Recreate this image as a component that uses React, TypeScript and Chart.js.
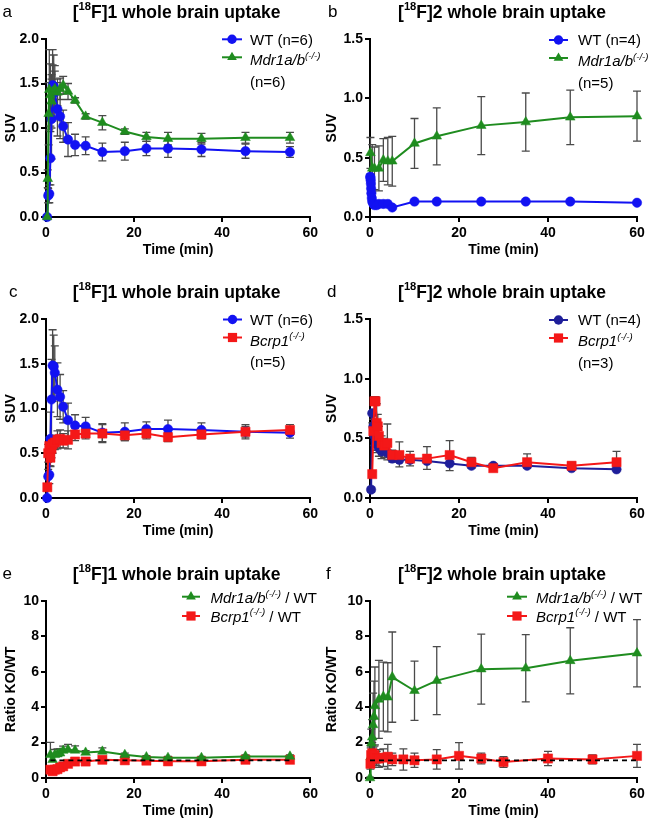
import React, { useEffect, useRef } from 'react';
import { Chart, registerables } from 'chart.js';

Chart.register(...registerables);

// ------------------------- DATA -------------------------
// Panel a / c : [18F]1, WT (n=6)
const timeWT1 = [0.25, 0.5, 0.75, 1.0, 1.25, 1.5, 1.75, 2.0, 2.6, 3.2, 3.9, 5.0, 6.6, 9.0, 12.8, 17.9, 22.8, 27.7, 35.3, 45.3, 55.4];
const suvWT1 = [0.0, 0.24, 0.26, 0.66, 1.10, 1.48, 1.47, 1.40, 1.21, 1.13, 1.02, 0.87, 0.81, 0.80, 0.73, 0.74, 0.77, 0.77, 0.76, 0.74, 0.73];
const sdWT1 = [0.02, 0.08, 0.1, 0.3, 0.45, 0.4, 0.35, 0.3, 0.3, 0.25, 0.18, 0.19, 0.12, 0.1, 0.1, 0.1, 0.08, 0.1, 0.08, 0.08, 0.06];

// Panel a : [18F]1, Mdr1a/b(-/-) (n=6)
const timeMdr1 = [0.25, 0.4, 0.6, 0.75, 1.0, 1.25, 1.5, 2.0, 2.6, 3.2, 3.9, 5.0, 6.6, 9.0, 12.8, 17.9, 22.8, 27.7, 35.3, 45.3, 55.4];
const suvMdr1 = [0.0, 0.43, 1.16, 1.43, 1.37, 1.30, 1.41, 1.44, 1.40, 1.44, 1.48, 1.41, 1.31, 1.13, 1.06, 0.96, 0.90, 0.88, 0.88, 0.89, 0.89];
const sdMdr1 = [0.02, 0.1, 0.35, 0.45, 0.35, 0.3, 0.3, 0.2, 0.15, 0.12, 0.1, 0.09, 0.03, 0.03, 0.08, 0.03, 0.05, 0.07, 0.06, 0.06, 0.06];

// Panel c : [18F]1, Bcrp1(-/-) (n=5)
const timeBcrp1 = [0.3, 0.5, 0.75, 1.0, 1.25, 1.5, 2.0, 2.6, 3.2, 3.9, 5.0, 6.6, 9.0, 12.8, 17.9, 22.8, 27.7, 35.3, 45.3, 55.4];
const suvBcrp1 = [0.12, 0.5, 0.58, 0.45, 0.55, 0.6, 0.62, 0.65, 0.66, 0.64, 0.65, 0.71, 0.72, 0.72, 0.70, 0.72, 0.68, 0.71, 0.74, 0.76];
const sdBcrp1 = [0.03, 0.1, 0.1, 0.1, 0.1, 0.1, 0.08, 0.1, 0.1, 0.08, 0.1, 0.07, 0.06, 0.1, 0.06, 0.06, 0.05, 0.05, 0.06, 0.06];

// Panel b : [18F]2, WT (n=4)
const timeWT2 = [0.05, 0.1, 0.15, 0.2, 0.25, 0.3, 0.4, 0.5, 0.75, 1.0, 1.5, 2.0, 3.0, 4.0, 5.0, 10, 15, 25, 35, 45, 60];
const suvWT2 = [0.34, 0.33, 0.31, 0.28, 0.24, 0.2, 0.16, 0.13, 0.11, 0.1, 0.1, 0.11, 0.11, 0.11, 0.08, 0.13, 0.13, 0.13, 0.13, 0.13, 0.12];
const sdWT2 = [0.02, 0.02, 0.02, 0.02, 0.02, 0.02, 0.02, 0.01, 0.01, 0.01, 0.01, 0.01, 0.01, 0.01, 0.01, 0.01, 0.01, 0.01, 0.01, 0.01, 0.01];

// Panel b : [18F]2, Mdr1a/b(-/-) (n=5)
const timeMdr2 = [0.1, 0.5, 1.0, 2.0, 3.0, 4.0, 5.0, 10, 15, 25, 35, 45, 60];
const suvMdr2 = [0.54, 0.41, 0.41, 0.41, 0.48, 0.47, 0.47, 0.62, 0.68, 0.77, 0.80, 0.84, 0.85];
const sdMdr2 = [0.13, 0.2, 0.18, 0.19, 0.18, 0.2, 0.21, 0.21, 0.24, 0.245, 0.245, 0.23, 0.21];

// Panel d : [18F]2, WT (n=4)
const timeWTd = [0.25, 0.5, 0.75, 1.0, 1.25, 1.5, 2.0, 2.6, 3.2, 3.9, 5.0, 6.6, 9.0, 12.8, 17.9, 22.8, 27.7, 35.3, 45.3, 55.4];
const suvWTd = [0.07, 0.71, 0.60, 0.52, 0.48, 0.45, 0.42, 0.39, 0.40, 0.38, 0.33, 0.32, 0.32, 0.31, 0.29, 0.27, 0.27, 0.27, 0.25, 0.24];
const sdWTd = [0.02, 0.08, 0.08, 0.08, 0.08, 0.07, 0.07, 0.06, 0.06, 0.06, 0.03, 0.06, 0.05, 0.07, 0.06, 0.02, 0.02, 0.02, 0.01, 0.01];

// Panel d : [18F]2, Bcrp1(-/-) (n=3)
const timeBcrp2 = [0.5, 0.75, 1.0, 1.25, 1.5, 1.75, 2.0, 2.6, 3.2, 3.9, 5.0, 6.6, 9.0, 12.8, 17.9, 22.8, 27.7, 35.3, 45.3, 55.4];
const suvBcrp2 = [0.20, 0.56, 0.81, 0.81, 0.63, 0.60, 0.52, 0.46, 0.44, 0.46, 0.36, 0.36, 0.33, 0.33, 0.36, 0.30, 0.25, 0.30, 0.27, 0.30];
const sdBcrp2 = [0.02, 0.1, 0.04, 0.04, 0.16, 0.1, 0.08, 0.06, 0.06, 0.16, 0.04, 0.11, 0.06, 0.1, 0.12, 0.04, 0.04, 0.07, 0.03, 0.09];

// Panel e : [18F]1 ratios KO/WT
const timeRatio1 = [1.0, 1.5, 2.0, 2.6, 3.2, 3.9, 5.0, 6.6, 9.0, 12.8, 17.9, 22.8, 27.7, 35.3, 45.3, 55.4];
const ratioMdr1 = [1.31, 1.03, 1.31, 1.35, 1.40, 1.55, 1.60, 1.56, 1.44, 1.50, 1.31, 1.18, 1.14, 1.14, 1.22, 1.22];
const sdRatioMdr1 = [0.7, 0.3, 0.3, 0.3, 0.25, 0.25, 0.3, 0.25, 0.1, 0.2, 0.1, 0.08, 0.08, 0.08, 0.08, 0.08];
const ratioBcrp1 = [0.47, 0.38, 0.47, 0.5, 0.6, 0.66, 0.8, 0.93, 0.93, 1.03, 1.0, 0.98, 0.94, 0.94, 1.03, 1.03];
const sdRatioBcrp1 = [0.1, 0.1, 0.1, 0.1, 0.1, 0.1, 0.1, 0.1, 0.08, 0.1, 0.08, 0.06, 0.06, 0.06, 0.08, 0.08];
const refTime1 = [1.0, 55.4];

// Panel f : [18F]2 ratios KO/WT
const timeRatioMdr2 = [0, 0.15, 0.3, 0.5, 0.7, 0.9, 1.1, 2, 3, 4, 5, 10, 15, 25, 35, 45, 60];
const ratioMdr2 = [0, 1.2, 1.96, 2.3, 3.0, 3.47, 4.07, 4.44, 4.6, 4.56, 5.7, 4.93, 5.5, 6.15, 6.2, 6.62, 7.05];
const sdRatioMdr2 = [0.05, 0.5, 0.8, 1.0, 1.8, 2.0, 2.2, 2.2, 1.95, 1.95, 2.55, 1.67, 1.92, 1.98, 1.9, 1.87, 1.9];
const timeRatioBcrp2 = [0.1, 0.25, 0.5, 0.75, 1, 1.5, 2, 3, 4, 5, 7.5, 10, 15, 20, 25, 30, 40, 50, 60];
const ratioBcrp2 = [0.8, 1.3, 1.4, 1.2, 1.3, 1.1, 1.1, 1.15, 1.2, 1.05, 1.05, 1.0, 1.05, 1.25, 1.1, 0.9, 1.1, 1.05, 1.25];
const sdRatioBcrp2 = [0.3, 0.5, 0.6, 0.5, 0.5, 0.4, 0.5, 0.5, 0.7, 0.35, 0.6, 0.4, 0.55, 0.75, 0.3, 0.3, 0.4, 0.25, 0.65];
const refTime2 = [0, 60];
const refRatio = [1, 1];

// Axis ticks
const xTicks = [0, 20, 40, 60];
const suvTicks1 = [0, 0.5, 1.0, 1.5, 2.0];
const suvTicks2 = [0, 0.5, 1.0, 1.5];
const ratioTicks = [0, 2, 4, 6, 8, 10];

// ------------------------- STYLE -------------------------
const FONT = "'Liberation Sans', Arial, Helvetica, sans-serif";
const BLUE = '#1212f2';
const NAVY = '#1e1e9a';
const GREEN = '#1f8c1f';
const RED = '#f41818';
const ERR = '#4a4a4a';

type Part = { t: string; italic?: boolean; sup?: boolean; bold?: boolean };
type Marker = 'circle' | 'triangle' | 'rect' | 'none';
type Series = {
  x: number[]; y: number[]; err?: number[]; dir?: 'both' | 'up' | 'down';
  color: string; marker: Marker; order: number; dashed?: boolean;
};
type LegendEntry = { color: string; marker: Marker; my: number; lines: { y: number; parts: Part[] }[] };
type Spec = {
  key: string; letter: string; letterX: number; compound: string;
  box: { left: number; top: number; width: number; height: number };
  area: { left: number; right: number; top: number; bottom: number };
  yTicks: number[]; yDec: number; yTitle: string;
  series: Series[];
  legend: { x1: number; x2: number; tx: number; entries: LegendEntry[] };
};

const KO_MDR: Part[] = [{ t: 'Mdr1a/b', italic: true }, { t: '(-/-)', italic: true, sup: true }];
const KO_BCRP: Part[] = [{ t: 'Bcrp1', italic: true }, { t: '(-/-)', italic: true, sup: true }];

const LEFT = { left: 0, width: 321 };
const RIGHT = { left: 321, width: 330 };

function twoEntryLegend(m1: number, c1: string, mk1: Marker, t1: string, c2: string, mk2: Marker, ko: Part[], n2: string): LegendEntry[] {
  return [
    { color: c1, marker: mk1, my: m1, lines: [{ y: m1 + 5.4, parts: [{ t: t1 }] }] },
    { color: c2, marker: mk2, my: m1 + 18, lines: [{ y: m1 + 26, parts: ko }, { y: m1 + 47.6, parts: [{ t: n2 }] }] },
  ];
}
function ratioLegend(m1: number): LegendEntry[] {
  return [
    { color: GREEN, marker: 'triangle', my: m1, lines: [{ y: m1 + 6.5, parts: [...KO_MDR, { t: ' / WT' }] }] },
    { color: RED, marker: 'rect', my: m1 + 19.3, lines: [{ y: m1 + 19.3 + 5.6, parts: [...KO_BCRP, { t: ' / WT' }] }] },
  ];
}

const panels: Spec[] = [
  {
    key: 'a', letter: 'a', letterX: 2.5, compound: '1',
    box: { ...LEFT, top: 0, height: 270 }, area: { left: 46, right: 313, top: 39, bottom: 217 },
    yTicks: suvTicks1, yDec: 1, yTitle: 'SUV',
    series: [
      { x: timeWT1, y: suvWT1, err: sdWT1, dir: 'both', color: BLUE, marker: 'circle', order: 2 },
      { x: timeMdr1, y: suvMdr1, err: sdMdr1, dir: 'both', color: GREEN, marker: 'triangle', order: 1 },
    ],
    legend: { x1: 222, x2: 242, tx: 250, entries: twoEntryLegend(39.3, BLUE, 'circle', 'WT (n=6)', GREEN, 'triangle', KO_MDR, '(n=6)') },
  },
  {
    key: 'b', letter: 'b', letterX: 328, compound: '2',
    box: { ...RIGHT, top: 0, height: 270 }, area: { left: 370, right: 637, top: 39, bottom: 217 },
    yTicks: suvTicks2, yDec: 1, yTitle: 'SUV',
    series: [
      { x: timeWT2, y: suvWT2, err: sdWT2, dir: 'both', color: BLUE, marker: 'circle', order: 2 },
      { x: timeMdr2, y: suvMdr2, err: sdMdr2, dir: 'both', color: GREEN, marker: 'triangle', order: 1 },
    ],
    legend: { x1: 549, x2: 568, tx: 578, entries: twoEntryLegend(40, BLUE, 'circle', 'WT (n=4)', GREEN, 'triangle', KO_MDR, '(n=5)') },
  },
  {
    key: 'c', letter: 'c', letterX: 9, compound: '1',
    box: { ...LEFT, top: 270, height: 270 }, area: { left: 46, right: 313, top: 319, bottom: 498 },
    yTicks: suvTicks1, yDec: 1, yTitle: 'SUV',
    series: [
      { x: timeWT1, y: suvWT1, err: sdWT1, dir: 'both', color: BLUE, marker: 'circle', order: 2 },
      { x: timeBcrp1, y: suvBcrp1, err: sdBcrp1, dir: 'both', color: RED, marker: 'rect', order: 1 },
    ],
    legend: { x1: 223, x2: 242, tx: 250, entries: twoEntryLegend(319.5, BLUE, 'circle', 'WT (n=6)', RED, 'rect', KO_BCRP, '(n=5)') },
  },
  {
    key: 'd', letter: 'd', letterX: 327, compound: '2',
    box: { ...RIGHT, top: 270, height: 270 }, area: { left: 370, right: 637, top: 319, bottom: 498 },
    yTicks: suvTicks2, yDec: 1, yTitle: 'SUV',
    series: [
      { x: timeWTd, y: suvWTd, err: sdWTd, dir: 'down', color: NAVY, marker: 'circle', order: 2 },
      { x: timeBcrp2, y: suvBcrp2, err: sdBcrp2, dir: 'up', color: RED, marker: 'rect', order: 1 },
    ],
    legend: { x1: 549, x2: 568, tx: 578, entries: twoEntryLegend(320, NAVY, 'circle', 'WT (n=4)', RED, 'rect', KO_BCRP, '(n=3)') },
  },
  {
    key: 'e', letter: 'e', letterX: 2.5, compound: '1',
    box: { ...LEFT, top: 540, height: 280 }, area: { left: 46, right: 313, top: 601, bottom: 778 },
    yTicks: ratioTicks, yDec: 0, yTitle: 'Ratio KO/WT',
    series: [
      { x: refTime1, y: refRatio, color: '#000', marker: 'none', order: 0, dashed: true },
      { x: timeRatio1, y: ratioBcrp1, err: sdRatioBcrp1, dir: 'both', color: RED, marker: 'rect', order: 2 },
      { x: timeRatio1, y: ratioMdr1, err: sdRatioMdr1, dir: 'up', color: GREEN, marker: 'triangle', order: 1 },
    ],
    legend: { x1: 182, x2: 200, tx: 210.5, entries: ratioLegend(596.7) },
  },
  {
    key: 'f', letter: 'f', letterX: 326, compound: '2',
    box: { ...RIGHT, top: 540, height: 280 }, area: { left: 370, right: 637, top: 601, bottom: 778 },
    yTicks: ratioTicks, yDec: 0, yTitle: 'Ratio KO/WT',
    series: [
      { x: refTime2, y: refRatio, color: '#000', marker: 'none', order: 0, dashed: true },
      { x: timeRatioBcrp2, y: ratioBcrp2, err: sdRatioBcrp2, dir: 'both', color: RED, marker: 'rect', order: 1 },
      { x: timeRatioMdr2, y: ratioMdr2, err: sdRatioMdr2, dir: 'both', color: GREEN, marker: 'triangle', order: 2 },
    ],
    legend: { x1: 507, x2: 527, tx: 536, entries: ratioLegend(596.7) },
  },
];

// ------------------------- DRAW HELPERS -------------------------
const RADIUS: Record<string, number> = { circle: 4.7, triangle: 5.6, rect: 6.5, none: 0 };

function drawMarker(ctx: CanvasRenderingContext2D, kind: Marker, x: number, y: number, color: string) {
  if (kind === 'none') return;
  const r = RADIUS[kind];
  ctx.fillStyle = color;
  ctx.beginPath();
  if (kind === 'circle') ctx.arc(x, y, r, 0, Math.PI * 2);
  else if (kind === 'triangle') {
    ctx.moveTo(x, y - r);
    ctx.lineTo(x + r * 0.866, y + r * 0.5);
    ctx.lineTo(x - r * 0.866, y + r * 0.5);
    ctx.closePath();
  } else {
    const s = r * Math.SQRT1_2;
    ctx.rect(x - s, y - s, 2 * s, 2 * s);
  }
  ctx.fill();
}

function drawRich(ctx: CanvasRenderingContext2D, parts: Part[], x: number, y: number, size: number, align: 'left' | 'center', weight = '') {
  const fontFor = (p: Part) =>
    `${p.italic ? 'italic ' : ''}${p.bold || weight ? 'bold ' : ''}${p.sup ? Math.round(size * 0.64 * 10) / 10 : size}px ${FONT}`;
  const widths = parts.map((p) => {
    ctx.font = fontFor(p);
    return ctx.measureText(p.t).width;
  });
  const total = widths.reduce((a, b) => a + b, 0);
  let cx = align === 'center' ? x - total / 2 : x;
  ctx.textAlign = 'left';
  ctx.textBaseline = 'alphabetic';
  ctx.fillStyle = '#000';
  parts.forEach((p, i) => {
    ctx.font = fontFor(p);
    ctx.fillText(p.t, cx, p.sup ? y - size * 0.42 : y);
    cx += widths[i];
  });
}

function makePlugin(spec: Spec) {
  const ox = spec.box.left;
  const oy = spec.box.top;
  return {
    id: 'overlay_' + spec.key,
    beforeDatasetsDraw(chart: any) {
      const ctx: CanvasRenderingContext2D = chart.ctx;
      const ys = chart.scales.y;
      ctx.save();
      ctx.strokeStyle = ERR;
      ctx.lineWidth = 1.3;
      chart.data.datasets.forEach((ds: any, i: number) => {
        if (!ds.errors) return;
        const meta = chart.getDatasetMeta(i);
        meta.data.forEach((pt: any, j: number) => {
          const v = ds.data[j].y;
          const e = ds.errors[j];
          const x = pt.x;
          const top = ys.getPixelForValue(ds.errDir === 'down' ? v : v + e);
          const bot = ys.getPixelForValue(ds.errDir === 'up' ? v : v - e);
          ctx.beginPath();
          ctx.moveTo(x, top);
          ctx.lineTo(x, bot);
          if (ds.errDir !== 'down') {
            ctx.moveTo(x - 4, top);
            ctx.lineTo(x + 4, top);
          }
          if (ds.errDir !== 'up') {
            ctx.moveTo(x - 4, bot);
            ctx.lineTo(x + 4, bot);
          }
          ctx.stroke();
        });
      });
      ctx.restore();
    },
    afterDraw(chart: any) {
      const ctx: CanvasRenderingContext2D = chart.ctx;
      const area = chart.chartArea;
      ctx.save();
      // panel letter
      ctx.font = `17px ${FONT}`;
      ctx.fillStyle = '#000';
      ctx.textAlign = 'left';
      ctx.textBaseline = 'alphabetic';
      ctx.fillText(spec.letter, spec.letterX - ox, area.top - 22);
      // title
      drawRich(
        ctx,
        [{ t: '[' }, { t: '18', sup: true }, { t: 'F]' + spec.compound + ' whole brain uptake' }],
        (area.left + area.right) / 2 - 1.5,
        area.top - 21.5,
        17.5,
        'center',
        'bold'
      );
      // legend
      const lg = spec.legend;
      lg.entries.forEach((en) => {
        const my = en.my - oy;
        ctx.strokeStyle = en.color;
        ctx.lineWidth = 2;
        ctx.beginPath();
        ctx.moveTo(lg.x1 - ox, my);
        ctx.lineTo(lg.x2 - ox, my);
        ctx.stroke();
        drawMarker(ctx, en.marker, (lg.x1 + lg.x2) / 2 - ox, my, en.color);
        en.lines.forEach((ln) => drawRich(ctx, ln.parts, lg.tx - ox, ln.y - oy, 15, 'left'));
      });
      ctx.restore();
    },
  };
}

function buildConfig(spec: Spec): any {
  const { box, area } = spec;
  const X_H = 42;
  const yMin = spec.yTicks[0];
  const yMax = spec.yTicks[spec.yTicks.length - 1];
  const yStep = spec.yTicks[1] - spec.yTicks[0];
  const tickFont = { family: FONT, size: 14, weight: 'bold' as const };
  const titleFont = { family: FONT, size: 14, weight: 'bold' as const };
  const grid = { display: true, drawOnChartArea: false, drawTicks: true, tickLength: 5, color: '#000', lineWidth: 2 };
  const border = { display: true, color: '#000', width: 2 };
  return {
    type: 'line',
    data: {
      datasets: spec.series.map((s) => ({
        data: s.x.map((xv, i) => ({ x: xv, y: s.y[i] })),
        errors: s.err,
        errDir: s.dir,
        borderColor: s.color,
        backgroundColor: s.color,
        borderWidth: s.dashed ? 1.8 : 2,
        borderDash: s.dashed ? [5, 4] : [],
        pointStyle: s.marker === 'none' ? false : s.marker,
        pointRadius: RADIUS[s.marker],
        pointBackgroundColor: s.color,
        pointBorderColor: s.color,
        pointBorderWidth: 0.5,
        tension: 0,
        clip: false,
        order: s.order,
        fill: false,
      })),
    },
    options: {
      responsive: false,
      animation: false,
      events: [],
      layout: {
        padding: {
          left: 0,
          top: area.top - box.top,
          right: box.left + box.width - area.right,
          bottom: box.top + box.height - area.bottom - X_H,
        },
      },
      plugins: { legend: { display: false }, tooltip: { enabled: false }, title: { display: false } },
      scales: {
        x: {
          type: 'linear',
          min: xTicks[0],
          max: xTicks[xTicks.length - 1],
          afterFit: (s: any) => {
            s.height = X_H;
          },
          afterBuildTicks: (s: any) => {
            s.ticks = xTicks.map((v) => ({ value: v }));
          },
          ticks: { font: tickFont, color: '#000', padding: 3, maxRotation: 0, autoSkip: false, callback: (v: any) => String(v) },
          grid,
          border,
          title: { display: true, text: 'Time (min)', font: titleFont, color: '#000', padding: { top: 0, bottom: 0 } },
        },
        y: {
          type: 'linear',
          min: yMin,
          max: yMax,
          afterFit: (s: any) => {
            s.width = area.left - box.left;
          },
          afterBuildTicks: (s: any) => {
            s.ticks = spec.yTicks.map((v) => ({ value: v }));
          },
          ticks: { stepSize: yStep, font: tickFont, color: '#000', padding: 2, autoSkip: false, callback: (v: any) => Number(v).toFixed(spec.yDec) },
          grid,
          border,
          title: { display: true, text: spec.yTitle, font: titleFont, color: '#000', padding: { top: 3, bottom: 0 } },
        },
      },
    },
    plugins: [makePlugin(spec)],
  };
}

function Panel({ spec }: { spec: Spec }) {
  const ref = useRef<HTMLCanvasElement>(null);
  useEffect(() => {
    const chart = new Chart(ref.current as HTMLCanvasElement, buildConfig(spec));
    return () => chart.destroy();
  }, [spec]);
  return (
    <canvas
      ref={ref}
      width={spec.box.width}
      height={spec.box.height}
      style={{
        position: 'absolute',
        left: spec.box.left,
        top: spec.box.top,
        width: spec.box.width,
        height: spec.box.height,
      }}
    />
  );
}

export default function App() {
  return (
    <div style={{ position: 'absolute', left: 0, top: 0, width: 651, height: 820, background: '#fff', overflow: 'hidden' }}>
      {panels.map((p) => (
        <Panel key={p.key} spec={p} />
      ))}
    </div>
  );
}
